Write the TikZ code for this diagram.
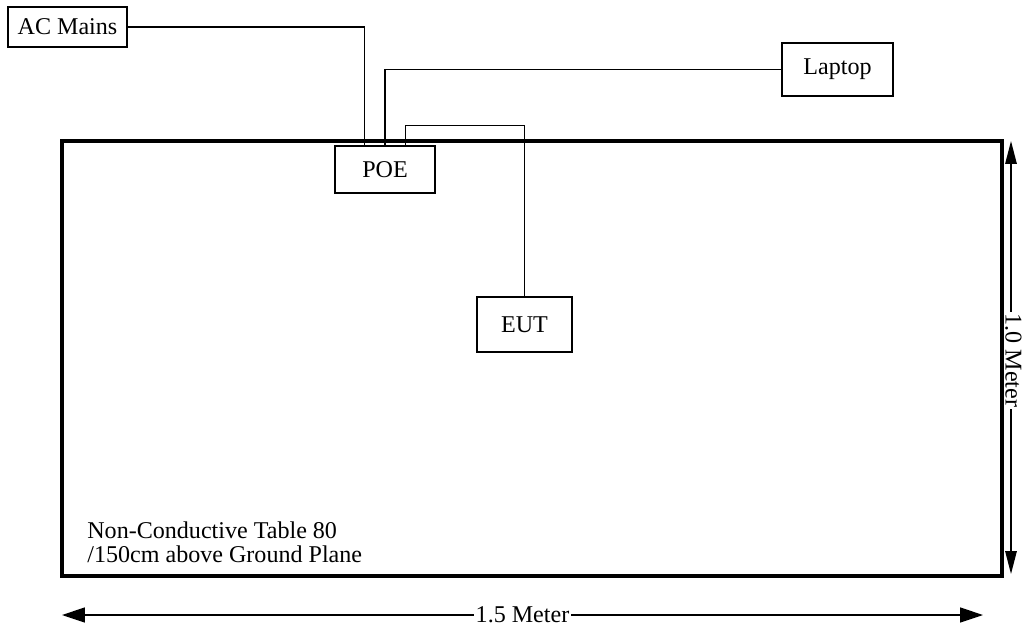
\documentclass[tikz,border=0pt]{standalone}
\usepackage{fontspec}
\setmainfont{Liberation Serif}
\usetikzlibrary{arrows.meta,calc}

\begin{document}
\begin{tikzpicture}[x=0.02cm, y=-0.02cm, >={Triangle[length=13pt,width=8.5pt]}, font=\fontsize{13.7}{13.9}\selectfont]
	\tikzset{
		unit/.style={draw, line width=1pt, inner sep=0pt},
		wire/.style={line width=0.6pt},
		dim/.style={<->, line width=0.8pt},
	}
	\useasboundingbox (0,0) rectangle (1022,627);
	
	% dimensions
	\coordinate (hl) at (62,615);
	\coordinate (hr) at (983,615);
	\coordinate (vt) at (1011,141);
	\coordinate (vb) at (1011,574);
	\draw [dim] (hl) -- node [fill=white, inner sep=1pt] (hlabel) {1.5 Meter} (hr);
	\draw [dim, >={Triangle[length=13pt,width=6.5pt]}] (vt) -- (vb);
	\node [fill=white, inner xsep=1pt, inner ysep=0pt, rotate=-90] (vlabel) at ($(vt)!0.5!(vb)+(2.5,3)$) {1.0 Meter};
	
	% table
	\draw [line width=1.8pt] (62,141) rectangle (1002,576);
	\node [anchor=north west, align=left, inner sep=0pt] (tabletext) at (87,521.5) {Non-Conductive Table 80\\/150cm above Ground Plane};
	
	\node [unit, minimum width=2.38cm, minimum height=0.80cm] (ac) at (67.5,27) {AC Mains};
	\node [unit, minimum width=2.22cm, minimum height=1.06cm] (laptop) at (837.5,69.5) {Laptop};
	\node [unit, minimum width=2.00cm, minimum height=0.94cm] (poe) at (385,169.5) {POE};
	\node [unit, minimum width=1.90cm, minimum height=1.10cm] (eut) at (524.5,324.5) {EUT};
	
	\coordinate (poea) at ($(poe.north west)!0.3!(poe.north east)$);
	\coordinate (poeb) at ($(poe.north west)!0.7!(poe.north east)$);
	
	\draw [wire] (ac.east) -| (poea);
	\draw [wire] (laptop.west) -| (poe.north);
	\draw [wire] (poeb) -- ++(0,-20) -| (eut.north);
\end{tikzpicture}
\end{document}
